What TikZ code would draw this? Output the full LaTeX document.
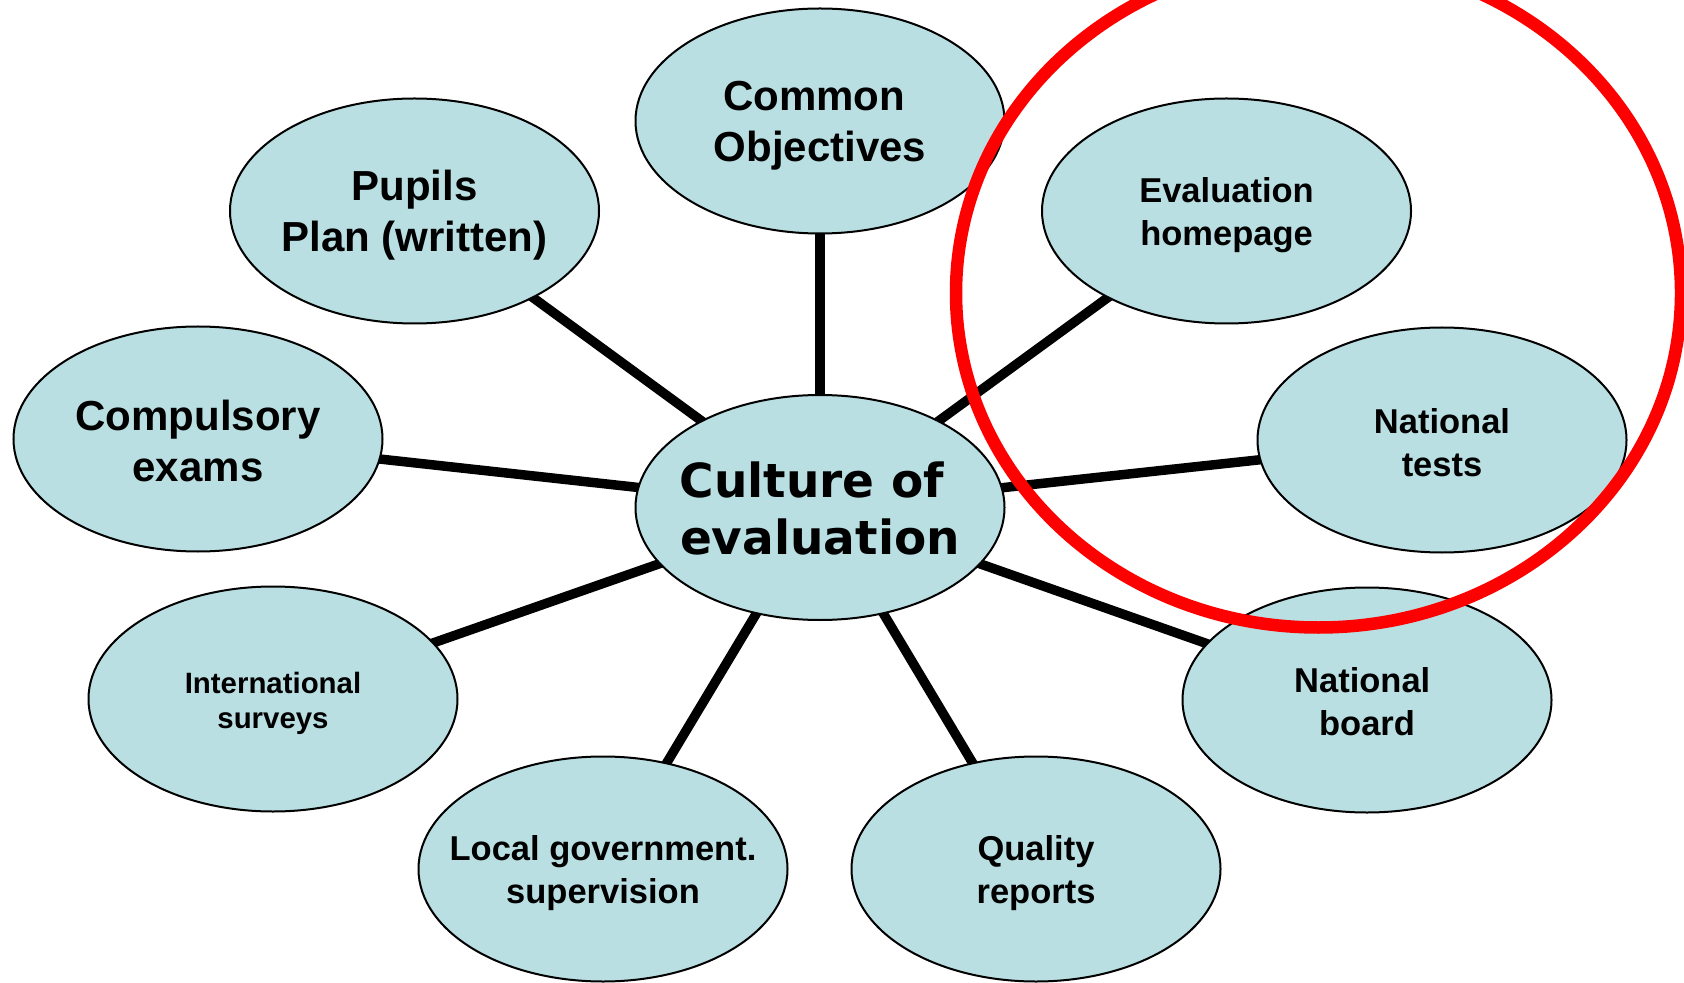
\documentclass[tikz,border=0pt]{standalone}
\usepackage{fontspec}
\setmainfont{Liberation Sans}
\newfontfamily\verdanalike{DejaVu Sans}
\usetikzlibrary{shapes.geometric,backgrounds}

\definecolor{bubblefill}{RGB}{185,223,226}
\definecolor{markred}{RGB}{255,0,0}

% taller first line, which lowers the text block inside its bubble
\newcommand\tallfirst[1][5pt]{\rule{0pt}{\dimexpr\fontcharht\font`\l+#1\relax}}

\tikzset{
  bubble/.style={ellipse, draw=black, line width=1pt, fill=bubblefill,
    minimum width=184.5pt, minimum height=112.5pt, inner xsep=-16pt, inner ysep=0pt,
    align=center, text=black},
  bigtext/.style={font=\fontsize{21}{25.25}\selectfont\bfseries},
  midtext/.style={font=\fontsize{17.25}{21.5}\selectfont\bfseries},
  smalltext/.style={font=\fontsize{14.7}{17.7}\selectfont\bfseries},
  hubtext/.style={font=\verdanalike\fontsize{23.5}{28.5}\selectfont\bfseries},
  spoke/.style={line width=4.75pt, draw=black},
  highlight/.style={draw=markred, line width=6.25pt}
}

\begin{document}
\begin{tikzpicture}[x=0.5pt, y=-0.5pt]
  \useasboundingbox (0,0) rectangle (1684,983);

  % hub
  \node[bubble, hubtext] (hub) at (820,507.5) {\tallfirst[2pt]Culture of\kern0.348em\\evaluation};

  % surrounding topics
  \node[bubble, bigtext] (common) at (820,121) {\tallfirst Common\kern0.278em\\Objectives};
  \node[bubble, bigtext] (pupils) at (414.5,211) {\tallfirst Pupils\\Plan (written)};
  \node[bubble, midtext] (homepage) at (1226.5,211) {\tallfirst Evaluation\\homepage};
  \node[bubble, bigtext] (exams) at (198,439) {\tallfirst[3pt]Compulsory\\exams};
  \node[bubble, midtext] (tests) at (1442,440) {\tallfirst[3pt]National\\tests};
  \node[bubble, smalltext] (surveys) at (273,699) {\tallfirst International\\surveys};
  \node[bubble, midtext] (board) at (1367,700) {\tallfirst[2.5pt]National\kern0.278em\\board};
  \node[bubble, midtext] (local) at (603,869) {\tallfirst Local government.\\supervision};
  \node[bubble, midtext] (quality) at (1036,869) {\tallfirst Quality\\reports};

  % spokes from the hub, behind the bubbles
  \begin{scope}[on background layer]
    \foreach \t in {common,pupils,homepage,exams,tests,surveys,board,local,quality}
      \draw[spoke] (hub.center) -- (\t.center);
  \end{scope}

  % red highlight ring
  \node[coordinate] (ringc) at (1318.5,293) {};
  \draw[highlight] (ringc) ellipse [x radius=362.5, y radius=334.5];
\end{tikzpicture}
\end{document}
